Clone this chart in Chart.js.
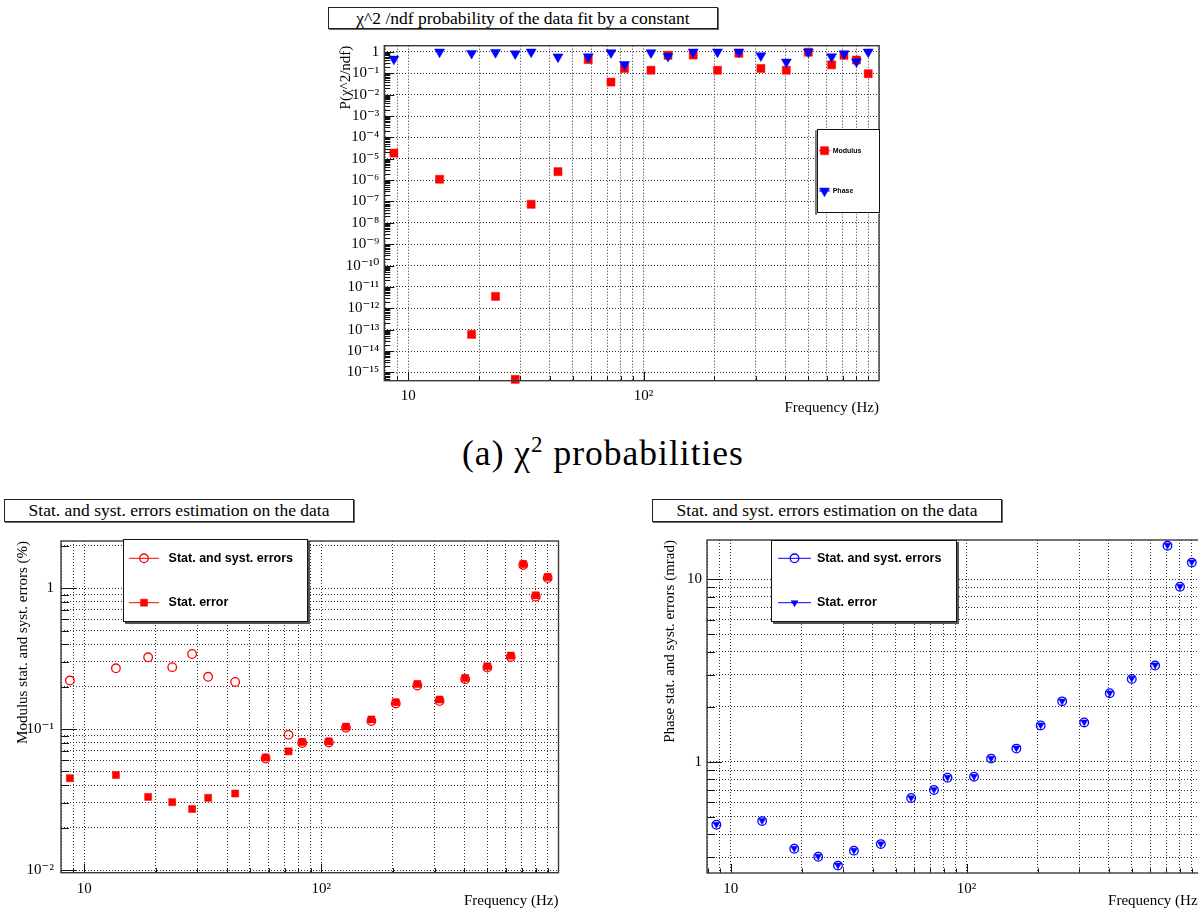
<!DOCTYPE html>
<html><head><meta charset="utf-8">
<script src="https://cdn.jsdelivr.net/npm/chart.js@4.4.1/dist/chart.umd.min.js"></script>
<style>
html,body{margin:0;padding:0;background:#fff;}
body{width:1198px;height:911px;overflow:hidden;position:relative;}
canvas{position:absolute;}
.tbox{position:absolute;box-sizing:border-box;border:1px solid #222;box-shadow:1px 1px 0 #666;background:#fff;
 font-family:'Liberation Serif','Times New Roman',serif;font-size:17.5px;text-align:center;color:#000;white-space:nowrap;}
.caption{position:absolute;left:0;width:1206px;text-align:center;font-family:'Liberation Serif','Times New Roman',serif;font-size:35.5px;letter-spacing:1px;line-height:40px;color:#000;white-space:nowrap;}
</style></head><body>
<div class="tbox" style="left:328px;top:7px;width:390px;height:22px;line-height:20px;">χ^2 /ndf probability of the data fit by a constant</div>
<div class="tbox" style="left:4px;top:499px;width:350px;height:23px;line-height:21px;">Stat. and syst. errors estimation on the data</div>
<div class="tbox" style="left:652px;top:499px;width:350px;height:23px;line-height:21px;">Stat. and syst. errors estimation on the data</div>
<div class="caption" style="top:433px;">(a) χ<sup style="font-size:23px;line-height:0;">2</sup> probabilities</div>
<canvas id="c1" width="580" height="391" style="left:320px;top:30px"></canvas>
<canvas id="c2" width="600" height="386" style="left:0px;top:525px"></canvas>
<canvas id="c3" width="580" height="386" style="left:640px;top:525px"></canvas>
<script>
// ---------------- data ----------------
const frequencies = [8.7, 13.6, 18.6, 23.5, 28.5, 33.3, 43.3, 58.2, 72.7, 83, 107.5, 127, 162.5, 206, 254, 315, 404, 501, 629, 710, 802, 900];
const chi2ProbModulus = [1.85e-5, 1.1e-6, 6e-14, 3.6e-12, 4.7e-16, 7.4e-8, 2.5e-6, 0.44, 0.039, 0.17, 0.14, 0.70, 0.72, 0.14, 0.87, 0.17, 0.14, 0.98, 0.25, 0.70, 0.42, 0.096];
const chi2ProbPhase = [0.47, 1.0, 0.87, 0.95, 0.83, 1.0, 0.59, 0.60, 0.93, 0.26, 0.93, 0.63, 1.0, 1.0, 1.0, 0.67, 0.34, 1.0, 0.60, 0.83, 0.35, 1.0];
const modulusTotalErr = [0.221, 0.270, 0.323, 0.275, 0.341, 0.235, 0.216, 0.0618, 0.091, 0.0796, 0.0804, 0.102, 0.114, 0.152, 0.204, 0.158, 0.226, 0.273, 0.325, 1.46, 0.87, 1.18];
const modulusStatErr = [0.0448, 0.0472, 0.033, 0.0303, 0.0271, 0.0325, 0.0349, 0.0628, 0.0695, 0.0809, 0.0817, 0.104, 0.117, 0.155, 0.209, 0.162, 0.230, 0.279, 0.332, 1.48, 0.889, 1.20];
const phaseTotalErr = [0.452, 0.473, 0.334, 0.302, 0.270, 0.326, 0.354, 0.633, 0.700, 0.817, 0.828, 1.04, 1.18, 1.58, 2.14, 1.64, 2.37, 2.84, 3.36, 15.2, 9.08, 12.3];
const phaseStatErr = [0.455, 0.476, 0.336, 0.304, 0.272, 0.328, 0.356, 0.636, 0.704, 0.821, 0.832, 1.045, 1.19, 1.59, 2.15, 1.65, 2.38, 2.86, 3.38, 15.3, 9.13, 12.4];

// tick labels
const freqTickValues = [10, 100];
const freqTickLabels = ['10', '10²'];
const probTickValues = [1, 1e-1, 1e-2, 1e-3, 1e-4, 1e-5, 1e-6, 1e-7, 1e-8, 1e-9, 1e-10, 1e-11, 1e-12, 1e-13, 1e-14, 1e-15];
const probTickLabels = ['1', '10⁻¹', '10⁻²', '10⁻³', '10⁻⁴', '10⁻⁵', '10⁻⁶', '10⁻⁷', '10⁻⁸', '10⁻⁹', '10⁻¹⁰', '10⁻¹¹', '10⁻¹²', '10⁻¹³', '10⁻¹⁴', '10⁻¹⁵'];
const modTickValues = [1, 1e-1, 1e-2];
const modTickLabels = ['1', '10⁻¹', '10⁻²'];
const phaseTickValues = [1, 10];
const phaseTickLabels = ['1', '10'];

// ---------------- helpers ----------------
const SERIF = "'Liberation Serif','DejaVu Serif','Times New Roman',serif";
const GRID = '#333';
const isDecade = v => Math.abs(Math.log10(v) - Math.round(Math.log10(v))) < 1e-7;
function logTicks(min, max) {
  const out = [];
  for (let e = Math.floor(Math.log10(min)); e <= Math.ceil(Math.log10(max)); e++) {
    for (let m = 1; m <= 9; m++) {
      const v = parseFloat((m * Math.pow(10, e)).toPrecision(12));
      if (v >= min && v <= max) out.push(v);
    }
  }
  return out;
}
function labeler(values, labels) {
  return v => {
    for (let i = 0; i < values.length; i++) {
      if (Math.abs(Math.log10(v) - Math.log10(values[i])) < 1e-7) return labels[i];
    }
    return '';
  };
}
const pts = arr => frequencies.map((f, i) => ({x: f, y: arr[i]}));

function drawMarker(ctx, style, rot, x, y, r, fill, stroke, bw) {
  ctx.save();
  ctx.beginPath();
  if (style === 'rect') {
    const s = Math.SQRT1_2 * r;
    ctx.rect(x - s, y - s, 2 * s, 2 * s);
  } else if (style === 'circle') {
    ctx.arc(x, y, r, 0, Math.PI * 2);
  } else if (style === 'triangle') {
    let a = (rot || 0) * Math.PI / 180;
    ctx.moveTo(x + Math.sin(a) * r, y - Math.cos(a) * r);
    a += 2 * Math.PI / 3; ctx.lineTo(x + Math.sin(a) * r, y - Math.cos(a) * r);
    a += 2 * Math.PI / 3; ctx.lineTo(x + Math.sin(a) * r, y - Math.cos(a) * r);
    ctx.closePath();
  }
  if (fill && fill !== 'transparent') { ctx.fillStyle = fill; ctx.fill(); }
  if (bw > 0) { ctx.lineWidth = bw; ctx.strokeStyle = stroke; ctx.stroke(); }
  ctx.restore();
}

const rootStyle = {
  id: 'rootStyle',
  afterDatasetsDraw(chart, args, o) {
    const ctx = chart.ctx, a = chart.chartArea;
    const xs = chart.scales.x, ys = chart.scales.y;
    ctx.save();
    // inward tick marks (bottom and left axes)
    ctx.strokeStyle = '#111'; ctx.lineWidth = 1;
    ctx.beginPath();
    xs.ticks.forEach(t => {
      const px = Math.round(xs.getPixelForValue(t.value)) + 0.5;
      if (px < a.left + 1 || px > a.right - 1) return;
      const len = isDecade(t.value) ? o.xMajor : o.xMinor;
      ctx.moveTo(px, a.bottom); ctx.lineTo(px, a.bottom - len);
    });
    ys.ticks.forEach(t => {
      const py = Math.round(ys.getPixelForValue(t.value)) + 0.5;
      if (py < a.top + 1 || py > a.bottom - 1) return;
      const len = isDecade(t.value) ? o.yMajor : o.yMinor;
      ctx.moveTo(a.left, py); ctx.lineTo(a.left + len, py);
    });
    ctx.stroke();
    // frame
    ctx.strokeStyle = '#3a3a3a'; ctx.lineWidth = 1.4;
    ctx.strokeRect(a.left, a.top, a.right - a.left, a.bottom - a.top);
    // legend
    const lg = o.legend;
    if (lg) {
      const x1 = lg.x1 - o.ox, y1 = lg.y1 - o.oy, w = lg.x2 - lg.x1, h = lg.y2 - lg.y1;
      ctx.fillStyle = '#555';
      if (lg.shadowLeft) ctx.fillRect(x1 - 1.5, y1 + 1, 2, h);
      else ctx.fillRect(x1 + 2, y1 + 2, w, h);
      ctx.fillStyle = '#fff'; ctx.fillRect(x1, y1, w, h);
      ctx.strokeStyle = '#111'; ctx.lineWidth = 1;
      ctx.strokeRect(Math.round(x1) + 0.5, Math.round(y1) + 0.5, Math.round(w) - 1, Math.round(h) - 1);
      lg.entries.forEach(e => {
        const ds = chart.data.datasets[e.ds];
        const y = e.y - o.oy;
        ctx.strokeStyle = ds.borderColor; ctx.lineWidth = 1;
        ctx.beginPath(); ctx.moveTo(lg.lx1 - o.ox, y); ctx.lineTo(lg.lx2 - o.ox, y); ctx.stroke();
        drawMarker(ctx, ds.pointStyle, ds.pointRotation, lg.mx - o.ox, y, ds.pointRadius,
          ds.backgroundColor, ds.borderColor, ds.pointBorderWidth);
        ctx.fillStyle = '#000'; ctx.font = lg.font; ctx.textBaseline = 'middle'; ctx.textAlign = 'left';
        ctx.fillText(ds.label, lg.tx - o.ox, y);
      });
    }
    ctx.restore();
  }
};

function makeChart(id, cfg) {
  const tickFont = {family: SERIF, size: 15, lineHeight: 1.2};
  const gridDash = [1, 2];
  return new Chart(document.getElementById(id), {
    type: 'scatter',
    data: {datasets: cfg.datasets},
    options: {
      responsive: false, animation: false, devicePixelRatio: 1, events: [],
      layout: {padding: cfg.padding},
      plugins: {legend: {display: false}, tooltip: {enabled: false}, rootStyle: cfg.root},
      scales: {
        x: {
          type: 'logarithmic', min: cfg.xmin, max: cfg.xmax,
          afterBuildTicks: s => { s.ticks = logTicks(cfg.xmin, cfg.xmax).map(v => ({value: v, major: isDecade(v)})); },
          afterFit: s => { s.height = cfg.xAxisHeight; },
          ticks: {autoSkip: false, maxRotation: 0, minRotation: 0, padding: cfg.xTickPad, color: '#000', font: tickFont,
            callback: labeler(freqTickValues, freqTickLabels)},
          grid: {drawTicks: false, lineWidth: 1, color: c => (c.tick ? GRID : 'transparent')},
          border: {display: false, dash: gridDash},
          title: {display: true, text: 'Frequency (Hz)', align: 'end', color: '#000', padding: {top: 0, bottom: 0},
            font: {family: SERIF, size: 15, lineHeight: 1.2}}
        },
        y: {
          type: 'logarithmic', min: cfg.ymin, max: cfg.ymax,
          afterBuildTicks: s => { s.ticks = logTicks(cfg.ymin, cfg.ymax).map(v => ({value: v, major: isDecade(v)})); },
          afterFit: s => { s.width = cfg.yAxisWidth; },
          ticks: {autoSkip: false, padding: cfg.yTickPad, color: '#000', font: tickFont,
            callback: labeler(cfg.yTickValues, cfg.yTickLabels)},
          grid: {drawTicks: false, lineWidth: 1,
            color: c => (!c.tick ? 'transparent' : (cfg.yMinorGrid || isDecade(c.tick.value)) ? GRID : 'transparent')},
          border: {display: false, dash: gridDash},
          title: {display: true, text: cfg.yTitle, align: 'end', color: '#000', padding: {top: cfg.yTitlePad, bottom: 0},
            font: {family: SERIF, size: 15, lineHeight: 1.2}}
        }
      }
    },
    plugins: [rootStyle]
  });
}

const RED = '#ff0000', BLUE = '#0000ff';

// ---------------- (a) chi2 probability chart ----------------
makeChart('c1', {
  xmin: 7.92, xmax: 1000, ymin: 4.07e-16, ymax: 1.97,
  padding: {left: 0, top: 15.7, right: 21, bottom: 4.3},
  yAxisWidth: 64.3, xAxisHeight: 36, xTickPad: 6, yTickPad: 5, yTitlePad: 17,
  yTickValues: probTickValues, yTickLabels: probTickLabels, yMinorGrid: false,
  yTitle: 'P(χ^2/ndf)',
  root: {ox: 320, oy: 30, xMajor: 9, xMinor: 4.5, yMajor: 10, yMinor: 6,
    legend: {x1: 816.7, y1: 129.3, x2: 879.3, y2: 213.7, shadowLeft: true, lx1: 819, lx2: 830, mx: 824.5, tx: 832.7,
      font: "bold 7px 'Liberation Sans', Arial, sans-serif",
      entries: [{ds: 0, y: 150.7}, {ds: 1, y: 191}]}},
  datasets: [
    {label: 'Modulus', data: pts(chi2ProbModulus), pointStyle: 'rect', pointRadius: 5.7, pointBorderWidth: 0.5,
      backgroundColor: RED, borderColor: RED, showLine: false, clip: false, order: 1},
    {label: 'Phase', data: pts(chi2ProbPhase), pointStyle: 'triangle', pointRotation: 180, pointRadius: 5.8, pointBorderWidth: 0.5,
      backgroundColor: BLUE, borderColor: BLUE, showLine: false, clip: false, order: 0}
  ]
});

// ---------------- (b) modulus errors ----------------
makeChart('c2', {
  xmin: 7.98, xmax: 1000, ymin: 0.00957, ymax: 2.16,
  padding: {left: 0, top: 14.3, right: 41.5, bottom: 1.3},
  yAxisWidth: 61, xAxisHeight: 37, xTickPad: 7.5, yTickPad: 7, yTitlePad: 14,
  yTickValues: modTickValues, yTickLabels: modTickLabels, yMinorGrid: true,
  yTitle: 'Modulus stat. and syst. errors (%)',
  root: {ox: 0, oy: 525, xMajor: 9, xMinor: 4.5, yMajor: 15, yMinor: 8,
    legend: {x1: 123, y1: 539.3, x2: 308, y2: 622, lx1: 129, lx2: 159, mx: 144, tx: 168.6,
      font: "bold 12.5px 'Liberation Sans', Arial, sans-serif",
      entries: [{ds: 0, y: 558.3}, {ds: 1, y: 602.7}]}},
  datasets: [
    {label: 'Stat. and syst. errors', data: pts(modulusTotalErr), pointStyle: 'circle', pointRadius: 4.3, pointBorderWidth: 1.3,
      backgroundColor: 'transparent', borderColor: RED, showLine: false, clip: false},
    {label: 'Stat. error', data: pts(modulusStatErr), pointStyle: 'rect', pointRadius: 5, pointBorderWidth: 0.5,
      backgroundColor: RED, borderColor: RED, showLine: false, clip: false}
  ]
});

// ---------------- (c) phase errors ----------------
makeChart('c3', {
  xmin: 7.94, xmax: 1000, ymin: 0.246, ymax: 16.35,
  padding: {left: 0, top: 15, right: 17.4, bottom: 1},
  yAxisWidth: 67, xAxisHeight: 37, xTickPad: 7.5, yTickPad: 5, yTitlePad: 21,
  yTickValues: phaseTickValues, yTickLabels: phaseTickLabels, yMinorGrid: true,
  yTitle: 'Phase stat. and syst. errors (mrad)',
  root: {ox: 640, oy: 525, xMajor: 9, xMinor: 4.5, yMajor: 15, yMinor: 8,
    legend: {x1: 771, y1: 540, x2: 957, y2: 622, lx1: 778, lx2: 811, mx: 794.5, tx: 817,
      font: "bold 12.5px 'Liberation Sans', Arial, sans-serif",
      entries: [{ds: 0, y: 558.3}, {ds: 1, y: 602.7}]}},
  datasets: [
    {label: 'Stat. and syst. errors', data: pts(phaseTotalErr), pointStyle: 'circle', pointRadius: 4.3, pointBorderWidth: 1.3,
      backgroundColor: 'transparent', borderColor: BLUE, showLine: false, clip: false},
    {label: 'Stat. error', data: pts(phaseStatErr), pointStyle: 'triangle', pointRotation: 180, pointRadius: 4, pointBorderWidth: 0.5,
      backgroundColor: BLUE, borderColor: BLUE, showLine: false, clip: false}
  ]
});
</script>
</body></html>
